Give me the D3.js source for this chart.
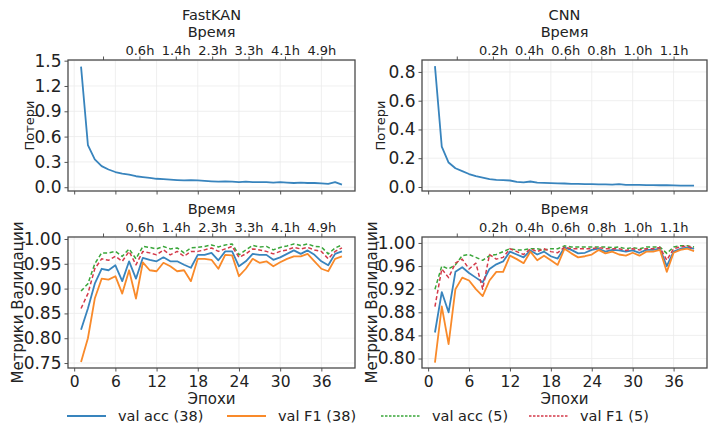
<!DOCTYPE html>
<html>
<head>
<meta charset="utf-8">
<script src="https://cdn.jsdelivr.net/npm/d3@7"></script>
<style>
  body { margin: 0; background: #fff; }
  svg text { font-family: "DejaVu Sans", sans-serif; fill: #222; }
</style>
</head>
<body>
<div id="chart"></div>
<script>
        // epochs 1..39
        const epochs = [1, 2, 3, 4, 5, 6, 7, 8, 9, 10, 11, 12, 13, 14, 15, 16, 17, 18, 19, 20,
            21, 22, 23, 24, 25, 26, 27, 28, 29, 30, 31, 32, 33, 34, 35, 36, 37, 38, 39];

        const fastLoss = [1.43, 0.50, 0.33, 0.25, 0.21, 0.18, 0.16, 0.15, 0.13, 0.12, 0.11, 0.10, 0.095, 0.09, 0.085,
            0.08, 0.085, 0.08, 0.075, 0.07, 0.065, 0.07, 0.065, 0.06, 0.065, 0.06, 0.06, 0.06, 0.055, 0.06,
            0.055, 0.05, 0.055, 0.05, 0.05, 0.045, 0.04, 0.06, 0.03];
        const cnnLoss = [0.84, 0.28, 0.17, 0.13, 0.11, 0.09, 0.075, 0.065, 0.055, 0.05, 0.048, 0.045, 0.035, 0.032, 0.038,
            0.03, 0.028, 0.027, 0.025, 0.024, 0.022, 0.022, 0.02, 0.02, 0.018, 0.018, 0.016, 0.02, 0.015, 0.015,
            0.014, 0.013, 0.013, 0.012, 0.012, 0.011, 0.01, 0.01, 0.009];

        const fastAcc38 = [0.817, 0.86, 0.91, 0.94, 0.937, 0.947, 0.915, 0.955, 0.92, 0.962, 0.958, 0.955, 0.963, 0.955, 0.955,
            0.948, 0.942, 0.968, 0.968, 0.972, 0.957, 0.975, 0.975, 0.945, 0.955, 0.97, 0.968, 0.968, 0.958, 0.963,
            0.97, 0.977, 0.97, 0.977, 0.968, 0.955, 0.947, 0.97, 0.975];
        const fastF1_38 = [0.752, 0.80, 0.88, 0.92, 0.918, 0.925, 0.89, 0.937, 0.88, 0.953, 0.937, 0.935, 0.952, 0.945, 0.935,
            0.937, 0.915, 0.96, 0.96, 0.958, 0.94, 0.968, 0.967, 0.925, 0.94, 0.96, 0.952, 0.955, 0.945, 0.953,
            0.96, 0.965, 0.965, 0.97, 0.955, 0.94, 0.935, 0.96, 0.965];
        const fastAcc5 = [0.895, 0.91, 0.95, 0.972, 0.972, 0.975, 0.965, 0.98, 0.96, 0.985, 0.983, 0.98, 0.985, 0.98, 0.982,
            0.972, 0.982, 0.983, 0.985, 0.988, 0.984, 0.988, 0.99, 0.968, 0.978, 0.987, 0.984, 0.985, 0.978, 0.983,
            0.986, 0.99, 0.987, 0.99, 0.985, 0.984, 0.97, 0.982, 0.988];
        const fastF1_5 = [0.86, 0.89, 0.94, 0.96, 0.957, 0.965, 0.955, 0.975, 0.948, 0.975, 0.972, 0.968, 0.978, 0.968, 0.975,
            0.965, 0.975, 0.975, 0.978, 0.982, 0.975, 0.98, 0.985, 0.963, 0.97, 0.98, 0.978, 0.975, 0.97, 0.975,
            0.978, 0.983, 0.98, 0.983, 0.978, 0.975, 0.96, 0.975, 0.982];

        const cnnAcc38 = [0.845, 0.915, 0.88, 0.95, 0.958, 0.948, 0.94, 0.932, 0.955, 0.963, 0.968, 0.985, 0.98, 0.975, 0.987,
            0.98, 0.985, 0.977, 0.973, 0.992, 0.988, 0.982, 0.983, 0.988, 0.99, 0.985, 0.988, 0.987, 0.985, 0.987,
            0.983, 0.988, 0.988, 0.99, 0.96, 0.985, 0.99, 0.992, 0.99];
        const cnnF1_38 = [0.793, 0.89, 0.825, 0.92, 0.94, 0.935, 0.92, 0.908, 0.935, 0.95, 0.95, 0.978, 0.972, 0.965, 0.985,
            0.97, 0.978, 0.97, 0.962, 0.99, 0.982, 0.975, 0.977, 0.98, 0.988, 0.982, 0.985, 0.98, 0.978, 0.983,
            0.978, 0.985, 0.985, 0.988, 0.95, 0.983, 0.988, 0.99, 0.986];
        const cnnAcc5 = [0.92, 0.96, 0.955, 0.962, 0.978, 0.98, 0.975, 0.97, 0.978, 0.98, 0.985, 0.99, 0.988, 0.988, 0.99,
            0.99, 0.988, 0.99, 0.99, 0.995, 0.993, 0.993, 0.993, 0.993, 0.993, 0.993, 0.992, 0.993, 0.99, 0.992,
            0.99, 0.993, 0.993, 0.993, 0.982, 0.993, 0.995, 0.995, 0.993];
        const cnnF1_5 = [0.89, 0.955, 0.94, 0.965, 0.972, 0.955, 0.965, 0.92, 0.98, 0.972, 0.975, 0.99, 0.985, 0.98, 0.99,
            0.985, 0.99, 0.985, 0.983, 0.993, 0.99, 0.99, 0.99, 0.99, 0.992, 0.99, 0.99, 0.99, 0.987, 0.99,
            0.988, 0.99, 0.99, 0.992, 0.97, 0.99, 0.993, 0.995, 0.99];

        // axis ticks
        const epochTicks = [0, 6, 12, 18, 24, 30, 36];
        const timeTickEpochs = [4.2, 9.5, 14.8, 20.1, 25.4, 30.7, 36];
        const fastTimeLabels = ["", "0.6h", "1.4h", "2.3h", "3.3h", "4.1h", "4.9h"];
        const cnnTimeLabels = ["", "0.2h", "0.4h", "0.6h", "0.8h", "1.0h", "1.1h"];
        const fastLossTicks = [0, 0.3, 0.6, 0.9, 1.2, 1.5];
        const cnnLossTicks = [0, 0.2, 0.4, 0.6, 0.8];
        const fastMetricTicks = [0.75, 0.80, 0.85, 0.90, 0.95, 1.00];
        const cnnMetricTicks = [0.80, 0.84, 0.88, 0.92, 0.96, 1.00];

        const seriesNames = ["val acc (38)", "val F1 (38)", "val acc (5)", "val F1 (5)"];
        const colors = ["#3884bd", "#f98a2a", "#3aa63a", "#d43a4a"];
        const dashes = [null, null, "4,2.5", "4,2.5"];

        const W = 709, H = 428;
        const svg = d3.select("#chart").append("svg")
            .attr("width", W)
            .attr("height", H);

        function drawPanel(p) {
            const x = d3.scaleLinear().domain([-0.9, 40.9]).range([p.x0, p.x1]);
            const y = d3.scaleLinear().domain(p.yDomain).range([p.y1, p.y0]);
            const g = svg.append("g");

            // grid
            g.selectAll(".vg").data(epochTicks).enter().append("line")
                .attr("x1", d => x(d)).attr("x2", d => x(d))
                .attr("y1", p.y0).attr("y2", p.y1)
                .attr("stroke", "#ebebeb").attr("stroke-width", 0.8);
            g.selectAll(".hg").data(p.yTicks).enter().append("line")
                .attr("x1", p.x0).attr("x2", p.x1)
                .attr("y1", d => y(d)).attr("y2", d => y(d))
                .attr("stroke", "#ebebeb").attr("stroke-width", 0.8);

            // lines
            const line = d3.line().x((d, i) => x(epochs[i])).y(d => y(d));
            p.series.forEach(s => {
                g.append("path")
                    .datum(s.values)
                    .attr("fill", "none")
                    .attr("stroke", s.color)
                    .attr("stroke-width", s.dash ? 1.5 : 1.8)
                    .attr("stroke-dasharray", s.dash)
                    .attr("stroke-linejoin", "round")
                    .attr("d", line);
            });

            // axes
            const yAxis = d3.axisLeft(y).tickValues(p.yTicks).tickFormat(d3.format(p.yFmt))
                .tickSizeOuter(0).tickSize(3.5).tickPadding(3);
            const ya = g.append("g").attr("transform", `translate(${p.x0},0)`).call(yAxis);
            ya.selectAll("text").style("font-size", "17px");

            const xAxis = d3.axisBottom(x).tickValues(epochTicks).tickSizeOuter(0).tickSize(3.5).tickPadding(4);
            const xa = g.append("g").attr("transform", `translate(0,${p.y1})`).call(xAxis);
            xa.selectAll("text").style("font-size", "15.5px");
            if (!p.showX) xa.selectAll("text").remove();

            const tAxis = d3.axisTop(x).tickValues(timeTickEpochs)
                .tickFormat((d, i) => p.timeLabels[i]).tickSizeOuter(0).tickSize(3.5).tickPadding(2);
            const ta = g.append("g").attr("transform", `translate(0,${p.y0})`).call(tAxis);
            ta.selectAll("text").style("font-size", "13px");

            [ya, xa, ta].forEach(a => {
                a.select(".domain").remove();
                a.selectAll(".tick line").attr("stroke", "#555");
            });

            // frame
            g.append("rect")
                .attr("x", p.x0).attr("y", p.y0)
                .attr("width", p.x1 - p.x0).attr("height", p.y1 - p.y0)
                .attr("fill", "none").attr("stroke", "#4a4a4a").attr("stroke-width", 1.3);

            g.append("text")
                .attr("x", (p.x0 + p.x1) / 2).attr("y", p.y0 - 23)
                .attr("text-anchor", "middle").style("font-size", "14.5px")
                .text("Время");
            if (p.title) {
                g.append("text")
                    .attr("x", (p.x0 + p.x1) / 2).attr("y", p.y0 - 40)
                    .attr("text-anchor", "middle").style("font-size", "14.5px")
                    .text(p.title);
            }
            g.append("text")
                .attr("transform", `translate(${p.yLabelX},${(p.y0 + p.y1) / 2}) rotate(-90)`)
                .attr("text-anchor", "middle").attr("dy", "0.35em")
                .style("font-size", p.yLabelSize)
                .text(p.yLabel);
            if (p.showX) {
                g.append("text")
                    .attr("x", (p.x0 + p.x1) / 2).attr("y", 404)
                    .attr("text-anchor", "middle").style("font-size", "15px")
                    .text("Эпохи");
            }
        }

        function mk(vals) {
            return vals.map((v, i) => ({ values: v, color: colors[i], dash: dashes[i] }));
        }

        drawPanel({ x0: 68, x1: 355, y0: 60, y1: 191, yDomain: [-0.045, 1.508], yTicks: fastLossTicks, yFmt: ".1f",
            timeLabels: fastTimeLabels, title: "FastKAN", yLabel: "Потери", yLabelX: 29, yLabelSize: "13px",
            showX: false, series: [{ values: fastLoss, color: colors[0] }] });
        drawPanel({ x0: 422, x1: 707, y0: 60, y1: 191, yDomain: [-0.028, 0.883], yTicks: cnnLossTicks, yFmt: ".1f",
            timeLabels: cnnTimeLabels, title: "CNN", yLabel: "Потери", yLabelX: 380, yLabelSize: "13px",
            showX: false, series: [{ values: cnnLoss, color: colors[0] }] });
        drawPanel({ x0: 68, x1: 355, y0: 237, y1: 368, yDomain: [0.740, 1.004], yTicks: fastMetricTicks, yFmt: ".2f",
            timeLabels: fastTimeLabels, yLabel: "Метрики Валидации", yLabelX: 18, yLabelSize: "15px",
            showX: true, series: mk([fastAcc38, fastF1_38, fastAcc5, fastF1_5]) });
        drawPanel({ x0: 422, x1: 707, y0: 237, y1: 368, yDomain: [0.7836, 1.0103], yTicks: cnnMetricTicks, yFmt: ".2f",
            timeLabels: cnnTimeLabels, yLabel: "Метрики Валидации", yLabelX: 372, yLabelSize: "15px",
            showX: true, series: mk([cnnAcc38, cnnF1_38, cnnAcc5, cnnF1_5]) });

        // legend
        const legendX = [67, 227, 381, 529];
        const legend = svg.append("g");
        seriesNames.forEach((name, i) => {
            legend.append("line")
                .attr("x1", legendX[i]).attr("x2", legendX[i] + 39)
                .attr("y1", 416).attr("y2", 416)
                .attr("stroke", colors[i]).attr("stroke-width", dashes[i] ? 1.5 : 1.8)
                .attr("stroke-dasharray", dashes[i] ? "2.5,1.5" : null);
            legend.append("text")
                .attr("x", legendX[i] + 51).attr("y", 421)
                .style("font-size", "14.5px")
                .text(name);
        });
</script>
</body>
</html>
